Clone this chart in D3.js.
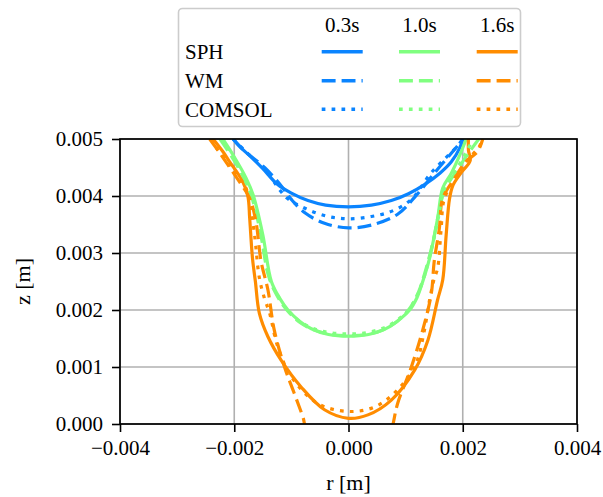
<!DOCTYPE html>
<html><head><meta charset="utf-8">
<script src="https://cdn.jsdelivr.net/npm/d3@7"></script>
<style>
html,body{margin:0;padding:0;background:#fff;}
text{font-family:"Liberation Serif","DejaVu Serif",serif;fill:#000;}
</style></head>
<body><svg id="chart" width="603" height="497"></svg>
<script>
// Data: [r (mm), z (mm)], converted to metres when drawn
const times = ["0.3s", "1.0s", "1.6s"];
const methods = ["SPH", "WM", "COMSOL"];
const colors = ["#0a84ff", "#80ff80", "#ff8c00"];
const xTicks = [-0.004, -0.002, 0.000, 0.002, 0.004];
const yTicks = [0.000, 0.001, 0.002, 0.003, 0.004, 0.005];

const sph03 = [[-2.02,5.00],[-1.90,4.86],[-1.70,4.68],[-1.50,4.48],[-1.24,4.20],[-1.00,4.05],[-0.71,3.92],[-0.40,3.84],[0,3.81],[0.40,3.84],[0.75,3.92],[1.05,4.04],[1.33,4.20],[1.60,4.40],[1.80,4.60],[1.95,4.85],[2.00,5.00]];
const wm03 = [[-2.02,5.00],[-1.82,4.79],[-1.47,4.50],[-1.18,4.18],[-1.00,3.94],[-0.77,3.71],[-0.42,3.52],[0,3.44],[0.40,3.49],[0.86,3.68],[1.16,3.98],[1.56,4.47],[1.91,4.88],[2.00,5.00]];
const com03 = [[-2.02,5.00],[-1.80,4.78],[-1.45,4.45],[-1.20,4.10],[-1.06,3.95],[-0.71,3.76],[-0.35,3.64],[0,3.60],[0.40,3.64],[0.75,3.73],[1.10,3.94],[1.45,4.41],[1.91,4.88],[2.00,5.00]];

const sph10 = [[-2.20,5.00],[-2.02,4.72],[-1.79,4.31],[-1.67,4.02],[-1.50,3.32],[-1.35,2.50],[-1.20,2.20],[-1.06,2.00],[-0.85,1.80],[-0.65,1.67],[-0.35,1.57],[0,1.54],[0.35,1.57],[0.63,1.66],[0.85,1.80],[1.07,2.00],[1.20,2.22],[1.30,2.50],[1.42,2.91],[1.56,3.61],[1.65,4.14],[1.80,4.40],[1.95,4.72],[2.06,5.00]];
const wm10 = [[-2.25,5.00],[-2.05,4.70],[-1.85,4.35],[-1.70,4.00],[-1.55,3.40],[-1.40,2.60],[-1.25,2.25],[-1.08,2.00],[-0.85,1.78],[-0.60,1.65],[-0.30,1.57],[0,1.55],[0.30,1.57],[0.60,1.65],[0.85,1.80],[1.05,2.00],[1.22,2.30],[1.35,2.70],[1.48,3.20],[1.58,3.70],[1.68,4.10],[1.90,4.45],[2.10,4.75],[2.28,5.00]];
const com10 = [[-2.22,5.00],[-2.03,4.72],[-1.82,4.33],[-1.68,4.00],[-1.53,3.35],[-1.38,2.55],[-1.22,2.22],[-1.07,2.00],[-0.85,1.80],[-0.60,1.67],[-0.30,1.60],[0,1.58],[0.30,1.60],[0.60,1.68],[0.85,1.82],[1.05,2.00],[1.20,2.25],[1.33,2.60],[1.46,3.10],[1.58,3.65],[1.67,4.10],[1.88,4.45],[2.05,4.75],[2.18,5.00]];

const sph16 = [[-2.37,5.00],[-2.20,4.78],[-2.08,4.60],[-1.85,4.25],[-1.76,3.99],[-1.73,3.61],[-1.68,2.90],[-1.63,2.50],[-1.56,1.94],[-1.41,1.53],[-1.18,1.12],[-0.83,0.65],[-0.42,0.25],[0,0.10],[0.34,0.16],[0.75,0.42],[1.16,0.95],[1.39,1.47],[1.56,2.18],[1.65,2.53],[1.71,3.32],[1.77,3.96],[1.83,4.19],[1.98,4.42],[2.13,4.62],[2.10,4.80],[2.10,5.00]];
const wm16 = [[-2.43,5.00],[-2.23,4.72],[-1.91,4.25],[-1.73,3.96],[-1.62,3.55],[-1.53,2.85],[-1.41,2.35],[-1.30,1.65],[-1.12,1.00],[-0.95,0.54],[-0.80,0.13],[-0.65,-0.30],[0.71,-0.30],[0.78,0.00],[0.86,0.36],[1.10,1.00],[1.30,1.65],[1.45,2.29],[1.50,2.85],[1.59,3.43],[1.65,3.96],[1.85,4.30],[2.05,4.60],[2.26,4.78],[2.35,5.00]];
const com16 = [[-2.40,5.00],[-2.31,4.84],[-2.00,4.45],[-1.80,4.15],[-1.73,3.90],[-1.645,3.32],[-1.56,2.56],[-1.47,2.20],[-1.38,1.94],[-1.24,1.36],[-1.00,0.83],[-0.54,0.36],[0,0.22],[0.46,0.30],[0.86,0.60],[1.18,1.06],[1.32,1.60],[1.42,2.18],[1.50,2.55],[1.56,2.73],[1.62,3.40],[1.68,3.96],[1.88,4.30],[2.10,4.65],[2.28,4.85],[2.35,5.00]];

const seriesData = {
  SPH: [sph03, sph10, sph16],
  WM: [wm03, wm10, wm16],
  COMSOL: [com03, com10, com16]
};

// Styles
const dashes = {SPH: null, WM: "13.9,6", COMSOL: "3.7,6.2"};
const LW = 3.2;

const svg = d3.select("#chart");
const L = 120, R = 577, T = 139, B = 424;
const x = d3.scaleLinear().domain([-0.004, 0.004]).range([L, R]);
const y = d3.scaleLinear().domain([0, 0.005]).range([B, T]);
const fmt = d3.format(".3f");

// grid
const grid = svg.append("g");
grid.selectAll("line.gx").data(xTicks).join("line")
  .attr("x1", d => x(d)).attr("x2", d => x(d)).attr("y1", T).attr("y2", B)
  .attr("stroke", "#b0b0b0").attr("stroke-width", 1.6);
grid.selectAll("line.gy").data(yTicks).join("line")
  .attr("y1", d => y(d)).attr("y2", d => y(d)).attr("x1", L).attr("x2", R)
  .attr("stroke", "#b0b0b0").attr("stroke-width", 1.6);

// clip
svg.append("clipPath").attr("id", "clip").append("rect")
  .attr("x", L).attr("y", T).attr("width", R - L).attr("height", B - T);

const line = d3.line().x(d => x(d[0] / 1000)).y(d => y(d[1] / 1000)).curve(d3.curveCatmullRom.alpha(0.5));
const plot = svg.append("g").attr("clip-path", "url(#clip)");
methods.forEach(m => {
  seriesData[m].forEach((arr, i) => {
    plot.append("path").datum(arr).attr("d", line)
      .attr("fill", "none").attr("stroke", colors[i]).attr("stroke-width", LW)
      .attr("stroke-dasharray", dashes[m]).attr("stroke-linecap", "butt").attr("stroke-linejoin", "round");
  });
});

// axes
const xAxis = d3.axisBottom(x).tickValues(xTicks).tickFormat(fmt).tickSize(8).tickPadding(8);
const yAxis = d3.axisLeft(y).tickValues(yTicks).tickFormat(fmt).tickSize(8).tickPadding(9);
const gx = svg.append("g").attr("transform", `translate(0,${B})`).call(xAxis);
const gy = svg.append("g").attr("transform", `translate(${L},0)`).call(yAxis);
[gx, gy].forEach(g => {
  g.select(".domain").remove();
  g.selectAll(".tick line").attr("stroke", "#000").attr("stroke-width", 1.6);
  g.selectAll(".tick text").attr("font-size", 21).attr("font-family", "Liberation Serif").attr("fill", "#000");
});
// frame
svg.append("rect").attr("x", L).attr("y", T).attr("width", R - L).attr("height", B - T)
  .attr("fill", "none").attr("stroke", "#000").attr("stroke-width", 1.7);

// axis labels
svg.append("text").attr("x", 348.5).attr("y", 490).attr("text-anchor", "middle").attr("font-size", 22).text("r [m]");
svg.append("text").attr("transform", "translate(30,281.5) rotate(-90)").attr("text-anchor", "middle").attr("font-size", 22).text("z [m]");

// legend
const lg = svg.append("g");
lg.append("rect").attr("x", 178.5).attr("y", 8.5).attr("width", 342).attr("height", 118).attr("rx", 4)
  .attr("fill", "#fff").attr("fill-opacity", 0.85).attr("stroke", "#cccccc").attr("stroke-width", 1.6);
const colX = [321.7, 399, 476.7];
const handleW = 41;
const rowY = [51.7, 80.7, 109.3];
const rowBase = [59, 88, 116.5];
times.forEach((t, i) => {
  lg.append("text").attr("x", colX[i] + handleW / 2).attr("y", 31.5).attr("text-anchor", "middle").attr("font-size", 21).text(t);
});
methods.forEach((m, j) => {
  lg.append("text").attr("x", 185).attr("y", rowBase[j]).attr("font-size", 21).text(m);
  times.forEach((t, i) => {
    lg.append("line").attr("x1", colX[i]).attr("x2", colX[i] + handleW)
      .attr("y1", rowY[j]).attr("y2", rowY[j])
      .attr("stroke", colors[i]).attr("stroke-width", LW + 0.4)
      .attr("stroke-dasharray", dashes[m]).attr("stroke-linecap", "butt");
  });
});
</script></body></html>
